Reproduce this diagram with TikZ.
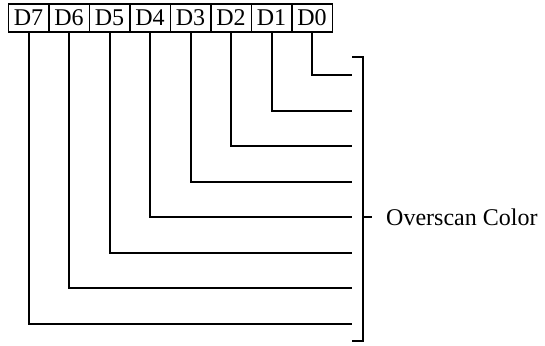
\documentclass[tikz,border=0pt]{standalone}
\usepackage{fontspec}
\setmainfont{Liberation Serif}
\begin{document}
\begin{tikzpicture}[x=1pt,y=-1pt,
  bit/.style={draw,line width=1.6pt,minimum width=40.5pt,minimum height=28pt,inner sep=0pt,font=\fontsize{24}{26}\selectfont,anchor=north west},
  wire/.style={line width=2pt},
  lbl/.style={font=\fontsize{24}{26}\selectfont,anchor=west,inner sep=0pt}]
\useasboundingbox (0,0) rectangle (545,345);
\foreach \n [count=\i from 0] in {7,6,5,4,3,2,1,0} {
  \node[bit] (b\n) at ({7.5+40.5*\i},3) {D\n};
}
\foreach \n/\y in {0/75,1/111,2/146,3/182,4/217,5/253,6/288,7/324} {
  \coordinate (e\n) at (352,\y);
  \draw[wire] (b\n.south) |- (e\n);
}
\coordinate (bt) at (352,57);
\coordinate (bb) at (352,341);
\coordinate (mid) at (372,217);
\draw[wire] (bt) -| (363,341) -- (bb);
\draw[wire] (363,217) -- (mid);
\node[lbl] (oc) at (386,217) {Overscan Color};
\end{tikzpicture}
\end{document}
